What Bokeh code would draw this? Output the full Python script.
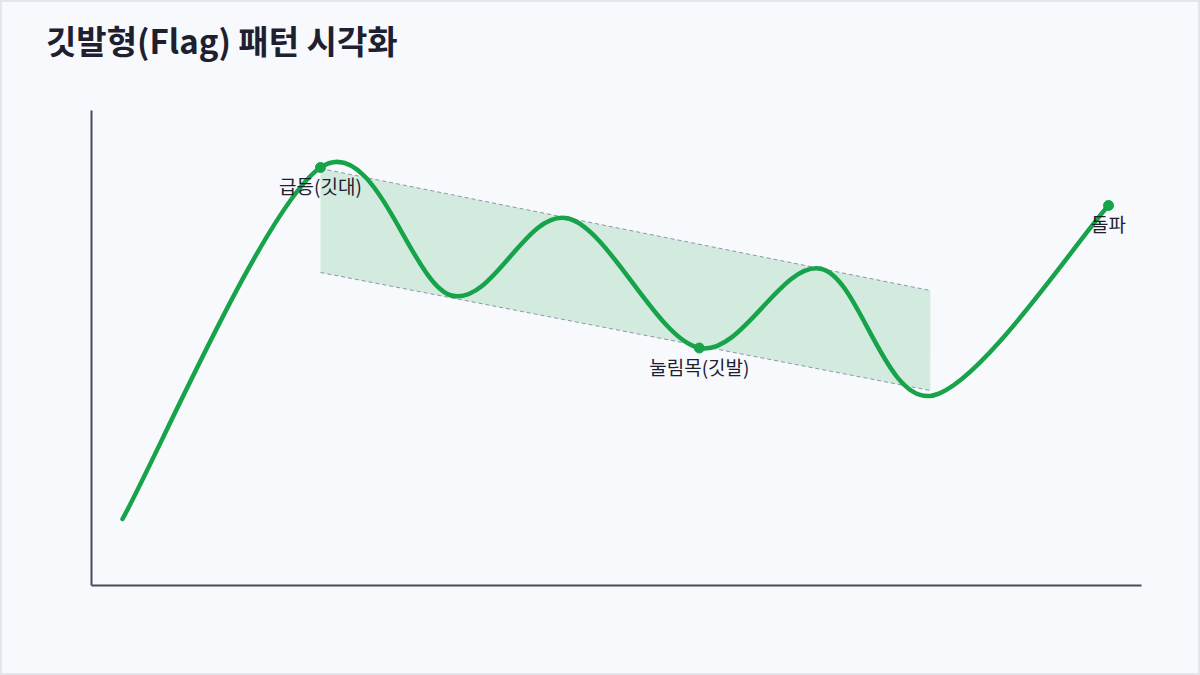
from bokeh.plotting import figure
from bokeh.models import ColumnDataSource, Range1d, FixedTicker, Label
from bokeh.core.properties import value
from bokeh.embed import file_html
from bokeh.resources import INLINE

# price path key points (x = time, y = price)
xs = [0, 15, 25, 33.7, 43.7, 52.9, 61.4, 74.7]
ys = [14, 88, 61, 77.3, 50, 66.7, 40, 80]

# flag channel (upper / lower trend lines)
flag_x = [15, 61.2]
flag_top = [87.8, 62.1]
flag_bottom = [65.9, 41.05]

# annotated points
note_x = [15, 43.7, 74.7]
note_y = [88, 50, 80]
note_text = ["급등(깃대)", "눌림목(깃발)", "돌파"]

X_MIN, X_MAX = -2.35, 77.2
Y_MIN, Y_MAX = 0, 100

GREEN = "#16a34a"
BG = "#f7f9fc"
INK = "#1e2030"
FONT = "Noto Sans CJK KR"

# the frame fills the whole card; axes are pinned inside it
p = figure(width=1200, height=675, output_backend="svg", toolbar_location=None,
           x_range=Range1d(-9.242, 81.667), y_range=Range1d(-18.947, 123.158),
           min_border=0)

p.background_fill_color = BG
p.border_fill_color = BG
p.outline_line_color = "#e3e5eb"
p.outline_line_width = 3
p.xgrid.visible = False
p.ygrid.visible = False

p.xaxis.fixed_location = Y_MIN
p.xaxis.bounds = (X_MIN, X_MAX)
p.yaxis.fixed_location = X_MIN
p.yaxis.bounds = (Y_MIN, Y_MAX)
for ax in (p.xaxis, p.yaxis):
    ax.ticker = FixedTicker(ticks=[])
    ax.axis_line_color = "#4a4a5e"
    ax.axis_line_width = 2
    ax.major_tick_line_color = None
    ax.minor_tick_line_color = None
    ax.major_tick_out = 0
    ax.minor_tick_out = 0
    ax.major_label_standoff = 0

title = Label(x=-5.8, y=114.8, text="깃발형(Flag) 패턴 시각화", text_font=FONT,
              text_font_size="33px", text_font_style="bold", text_color=INK,
              text_baseline="alphabetic")
p.add_layout(title)

# flag area
p.patch(flag_x + flag_x[::-1], flag_top + flag_bottom[::-1],
        fill_color=GREEN, fill_alpha=0.16, line_color=None)
p.line(flag_x, flag_top, line_color="#8a97a6", line_width=1, line_dash="4 3")
p.line(flag_x, flag_bottom, line_color="#8a97a6", line_width=1, line_dash="4 3")

# smooth price curve: Catmull-Rom segments drawn as cubic beziers
n = len(xs)
bx0, by0, bx1, by1, cx0, cy0, cx1, cy1 = [], [], [], [], [], [], [], []
for i in range(n - 1):
    a = max(i - 1, 0)
    d = min(i + 2, n - 1)
    bx0.append(xs[i]); by0.append(ys[i])
    bx1.append(xs[i + 1]); by1.append(ys[i + 1])
    cx0.append(xs[i] + (xs[i + 1] - xs[a]) / 6)
    cy0.append(ys[i] + (ys[i + 1] - ys[a]) / 6)
    cx1.append(xs[i + 1] - (xs[d] - xs[i]) / 6)
    cy1.append(ys[i + 1] - (ys[d] - ys[i]) / 6)
p.bezier(x0=bx0, y0=by0, x1=bx1, y1=by1, cx0=cx0, cy0=cy0, cx1=cx1, cy1=cy1,
         line_color=GREEN, line_width=4.5, line_cap="round")

src = ColumnDataSource(data=dict(x=note_x, y=note_y, t=note_text))
p.scatter("x", "y", source=src, size=10, color=GREEN)
p.text("x", "y", text="t", source=src, text_font=value(FONT), text_font_size="19px",
       text_color=INK, text_align="center", text_baseline="middle", y_offset=18)

open("out.html", "w").write(file_html(p, INLINE))
